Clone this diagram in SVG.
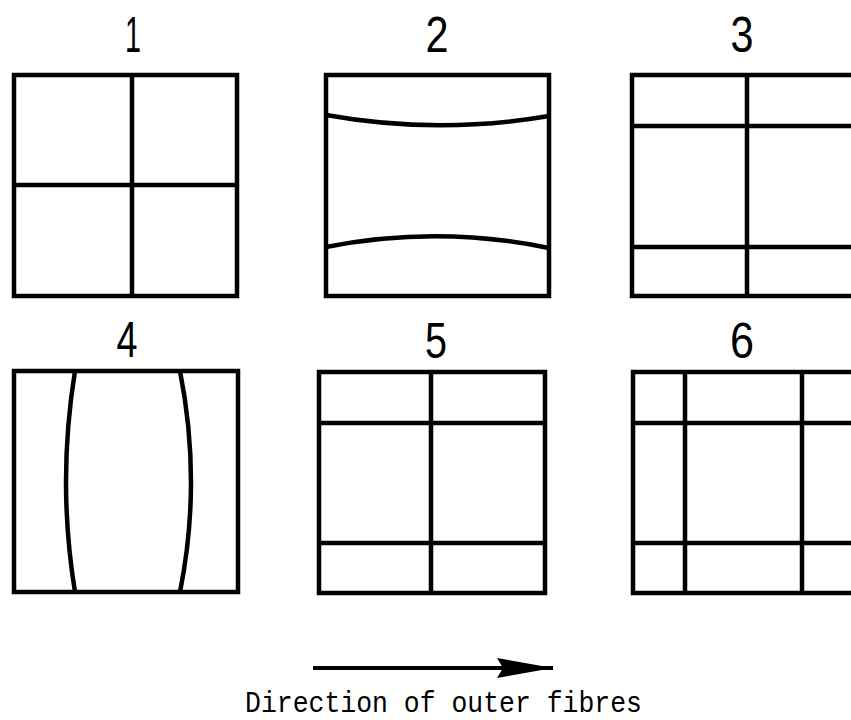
<svg xmlns="http://www.w3.org/2000/svg" width="851" height="720" viewBox="0 0 851 720">
  <style>
    .frame { fill: none; stroke: #000; stroke-width: 4.5; }
    .line { fill: none; stroke: #000; stroke-width: 4.5; }
    .num { font-family: "Liberation Sans", "DejaVu Sans", sans-serif; font-size: 50px; fill: #000; text-anchor: middle; }
    .caption { font-family: "Liberation Mono", "DejaVu Sans Mono", monospace; font-size: 30px; fill: #000; }
  </style>
  <defs>
    <marker id="head" markerUnits="userSpaceOnUse" markerWidth="60" markerHeight="26" refX="56" refY="13" orient="auto">
      <path d="M0,3 L56,13 L0,23 L6,13 Z" fill="#000"/>
    </marker>
  </defs>
  <rect width="851" height="720" fill="#fff"/>

  <g id="node1">
    <text class="num" x="133" y="52" textLength="16" lengthAdjust="spacingAndGlyphs">1</text>
    <rect class="frame" x="14" y="75" width="223" height="221"/>
    <line class="line" x1="132" y1="75" x2="132" y2="296"/>
    <line class="line" x1="14" y1="185" x2="237" y2="185"/>
  </g>

  <g id="node2">
    <text class="num" x="437" y="52" textLength="23" lengthAdjust="spacingAndGlyphs">2</text>
    <rect class="frame" x="326" y="75" width="223" height="221"/>
    <path class="line" d="M326,115 Q437,135 549,116"/>
    <path class="line" d="M326,247 Q437,225 549,248"/>
  </g>

  <g id="node3">
    <text class="num" x="742" y="52" textLength="23" lengthAdjust="spacingAndGlyphs">3</text>
    <rect class="frame" x="632" y="75" width="223" height="221"/>
    <line class="line" x1="747" y1="75" x2="747" y2="296"/>
    <line class="line" x1="632" y1="126" x2="855" y2="126"/>
    <line class="line" x1="632" y1="247" x2="855" y2="247"/>
  </g>

  <g id="node4">
    <text class="num" x="127" y="357" textLength="21" lengthAdjust="spacingAndGlyphs">4</text>
    <rect class="frame" x="14" y="371" width="224" height="221"/>
    <path class="line" d="M75,371 Q57,482 75,592"/>
    <path class="line" d="M180,371 Q202,482 180,592"/>
  </g>

  <g id="node5">
    <text class="num" x="436" y="358" textLength="22" lengthAdjust="spacingAndGlyphs">5</text>
    <rect class="frame" x="319" y="372" width="226" height="221"/>
    <line class="line" x1="431" y1="372" x2="431" y2="593"/>
    <line class="line" x1="319" y1="423" x2="545" y2="423"/>
    <line class="line" x1="319" y1="543" x2="545" y2="543"/>
  </g>

  <g id="node6">
    <text class="num" x="742" y="358" textLength="24" lengthAdjust="spacingAndGlyphs">6</text>
    <rect class="frame" x="633" y="372" width="226" height="221"/>
    <line class="line" x1="685" y1="372" x2="685" y2="593"/>
    <line class="line" x1="802" y1="372" x2="802" y2="593"/>
    <line class="line" x1="633" y1="423" x2="855" y2="423"/>
    <line class="line" x1="633" y1="543" x2="855" y2="543"/>
  </g>

  <g id="connectors">
    <line x1="313" y1="668" x2="553" y2="668" stroke="#000" stroke-width="4" marker-end="url(#head)"/>
  </g>

  <g id="caption">
    <text class="caption" x="245" y="712" textLength="397" lengthAdjust="spacingAndGlyphs">Direction of outer fibres</text>
  </g>
</svg>
